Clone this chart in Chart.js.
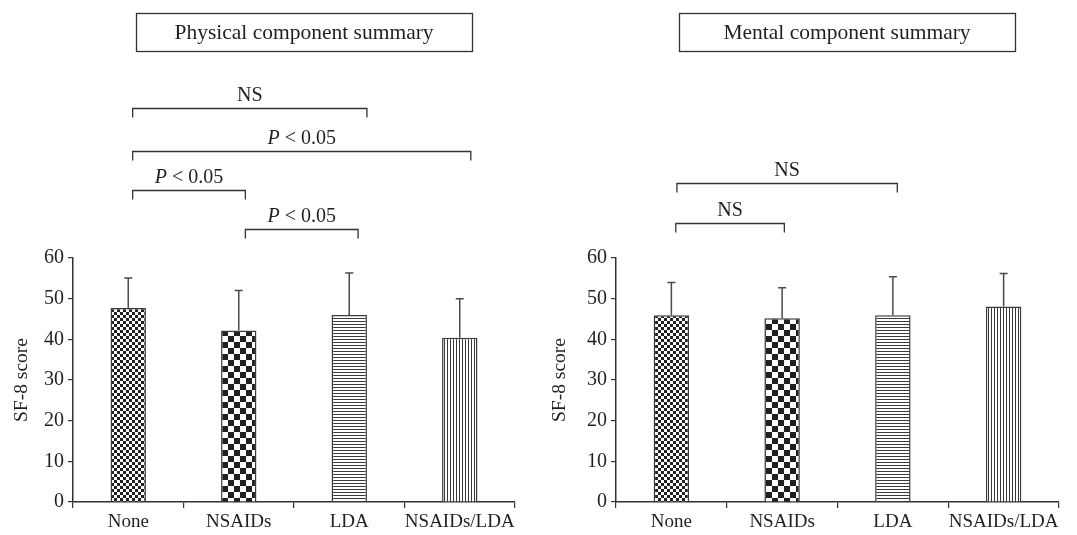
<!DOCTYPE html>
<html>
<head>
<meta charset="utf-8">
<script src="https://cdn.jsdelivr.net/npm/chart.js@4/dist/chart.umd.min.js"></script>
<style>
    html, body { margin: 0; padding: 0; background: #fff; }
    #wrap { position: relative; width: 1077px; height: 535px; }
    canvas { position: absolute; top: 0; }
</style>
</head>
<body>
<div id="wrap">
    <canvas id="physChart" width="538" height="535" style="left:0"></canvas>
    <canvas id="mentChart" width="539" height="535" style="left:538px"></canvas>
</div>
<script>
const groups = ['None', 'NSAIDs', 'LDA', 'NSAIDs/LDA'];
const yTicks = [0, 10, 20, 30, 40, 50, 60];

// SF-8 means and SDs
const physMean = [47.7, 42.2, 46.0, 40.4];
const physSD = [7.4, 9.8, 10.3, 9.6];
const mentMean = [45.9, 45.2, 45.9, 48.1];
const mentSD = [8.1, 7.5, 9.5, 8.1];

// comparisons: [from group, to group, label]
const physPairs = [[0, 2, 'NS'], [0, 3, 'P < 0.05'], [0, 1, 'P < 0.05'], [1, 2, 'P < 0.05']];
const mentPairs = [[0, 2, 'NS'], [0, 1, 'NS']];

const INK = '#231f20';
const SERIF = '"Liberation Serif", "Times New Roman", serif';

function makePattern(kind) {
    const c = document.createElement('canvas');
    const g = c.getContext('2d');
    if (kind === 'fine' || kind === 'coarse') {
        const s = kind === 'fine' ? 3 : 6;
        c.width = c.height = s * 2;
        g.fillStyle = '#fff'; g.fillRect(0, 0, s * 2, s * 2);
        g.fillStyle = INK;
        g.fillRect(0, 0, s, s); g.fillRect(s, s, s, s);
    } else if (kind === 'hline') {
        c.width = 4; c.height = 3;
        g.fillStyle = '#fff'; g.fillRect(0, 0, 4, 3);
        g.fillStyle = '#3a3a3a'; g.fillRect(0, 0, 4, 1);
    } else {
        c.width = 3; c.height = 4;
        g.fillStyle = '#fff'; g.fillRect(0, 0, 3, 4);
        g.fillStyle = '#3a3a3a'; g.fillRect(0, 0, 1, 4);
    }
    return g.createPattern(c, 'repeat');
}
const fills = [makePattern('fine'), makePattern('coarse'), makePattern('hline'), makePattern('vline')];

// error bars (upper only)
const errorBars = {
    id: 'errorBars',
    afterDatasetsDraw(chart, args, opts) {
        const ctx = chart.ctx, y = chart.scales.y;
        const meta = chart.getDatasetMeta(0);
        ctx.save();
        ctx.strokeStyle = '#4a4a4a';
        ctx.lineWidth = 1.5;
        meta.data.forEach((bar, i) => {
            const top = y.getPixelForValue(chart.data.datasets[0].data[i] + opts.sd[i]);
            ctx.beginPath();
            ctx.moveTo(bar.x, bar.y);
            ctx.lineTo(bar.x, top);
            ctx.moveTo(bar.x - 4, top);
            ctx.lineTo(bar.x + 4, top);
            ctx.stroke();
        });
        ctx.restore();
    }
};

function drawLabel(ctx, text, cx, cy) {
    ctx.font = '20px ' + SERIF;
    ctx.textBaseline = 'middle';
    ctx.textAlign = 'left';
    if (text.startsWith('P ')) {
        const rest = text.slice(1);
        ctx.font = 'italic 20px ' + SERIF;
        const wP = ctx.measureText('P').width;
        ctx.font = '20px ' + SERIF;
        const wR = ctx.measureText(rest).width;
        let x = cx - (wP + wR) / 2;
        ctx.font = 'italic 20px ' + SERIF;
        ctx.fillText('P', x, cy);
        ctx.font = '20px ' + SERIF;
        ctx.fillText(rest, x + wP, cy);
    } else {
        const w = ctx.measureText(text).width;
        ctx.fillText(text, cx - w / 2, cy);
    }
}

// significance brackets + boxed title
const brackets = {
    id: 'brackets',
    afterDraw(chart, args, opts) {
        const ctx = chart.ctx, x = chart.scales.x, y = chart.scales.y;
        ctx.save();
        ctx.strokeStyle = '#333';
        ctx.fillStyle = INK;
        ctx.lineWidth = 1.3;
        opts.pairs.forEach((p, i) => {
            const x1 = x.getPixelForValue(p[0] + opts.off[i][0]);
            const x2 = x.getPixelForValue(p[1] + opts.off[i][1]);
            const yy = Math.round(y.getPixelForValue(opts.levels[i])) + 0.5;
            ctx.beginPath();
            ctx.moveTo(x1, yy + 9);
            ctx.lineTo(x1, yy);
            ctx.lineTo(x2, yy);
            ctx.lineTo(x2, yy + 9);
            ctx.stroke();
            drawLabel(ctx, p[2], (x1 + x2) / 2, yy - 13);
        });
        // title box
        const bx = chart.chartArea.left + opts.boxLeft;
        ctx.lineWidth = 1.3;
        ctx.strokeRect(Math.round(bx) + 0.5, 13.5, opts.boxWidth, 38);
        ctx.font = '21.5px ' + SERIF;
        ctx.textAlign = 'center';
        ctx.textBaseline = 'middle';
        ctx.fillText(opts.title, bx + opts.boxWidth / 2, 33);
        ctx.restore();
    }
};

function buildChart(id, mean, sd, pairs, levels, off, title, axisLeft, padRight) {
    return new Chart(document.getElementById(id), {
        type: 'bar',
        data: {
            labels: groups,
            datasets: [{
                data: mean,
                backgroundColor: fills,
                borderColor: '#3a3a3a',
                borderWidth: 1.5,
                categoryPercentage: 1,
                barPercentage: 0.32
            }]
        },
        options: {
            responsive: false,
            devicePixelRatio: 1,
            animation: false,
            layout: { padding: { top: 258, right: padRight, bottom: 0, left: 0 } },
            plugins: {
                legend: { display: false },
                tooltip: { enabled: false },
                errorBars: { sd: sd },
                brackets: { pairs: pairs, levels: levels, off: off, title: title, boxLeft: 63, boxWidth: 336 }
            },
            scales: {
                x: {
                    offset: true,
                    afterFit: s => { s.height = 33; },
                    grid: { offset: true, drawOnChartArea: false, tickLength: 6, color: '#333', lineWidth: 1.2 },
                    border: { color: '#333', width: 1.5 },
                    ticks: { color: INK, font: { family: SERIF, size: 19 }, padding: 3, maxRotation: 0, autoSkip: false }
                },
                y: {
                    min: 0,
                    max: 60,
                    afterFit: s => { s.width = axisLeft; },
                    afterBuildTicks: s => { s.ticks = yTicks.map(v => ({ value: v })); },
                    grid: { drawOnChartArea: false, tickLength: 5, color: '#333', lineWidth: 1.2 },
                    border: { color: '#333', width: 1.5 },
                    ticks: { color: INK, font: { family: SERIF, size: 20 }, padding: 4 },
                    title: { display: true, text: 'SF-8 score', color: INK, font: { family: SERIF, size: 19.5 }, padding: { top: 10, bottom: 0 } }
                }
            }
        },
        plugins: [errorBars, brackets]
    });
}

buildChart('physChart', physMean, physSD, physPairs,
    [96.8, 86.3, 76.6, 67.1],
    [[0.04, 0.16], [0.04, 0.1], [0.04, 0.06], [0.06, 0.08]],
    'Physical component summary', 73, 23);

buildChart('mentChart', mentMean, mentSD, mentPairs,
    [78.5, 68.7],
    [[0.05, 0.04], [0.04, 0.02]],
    'Mental component summary', 78, 18);
</script>
</body>
</html>
